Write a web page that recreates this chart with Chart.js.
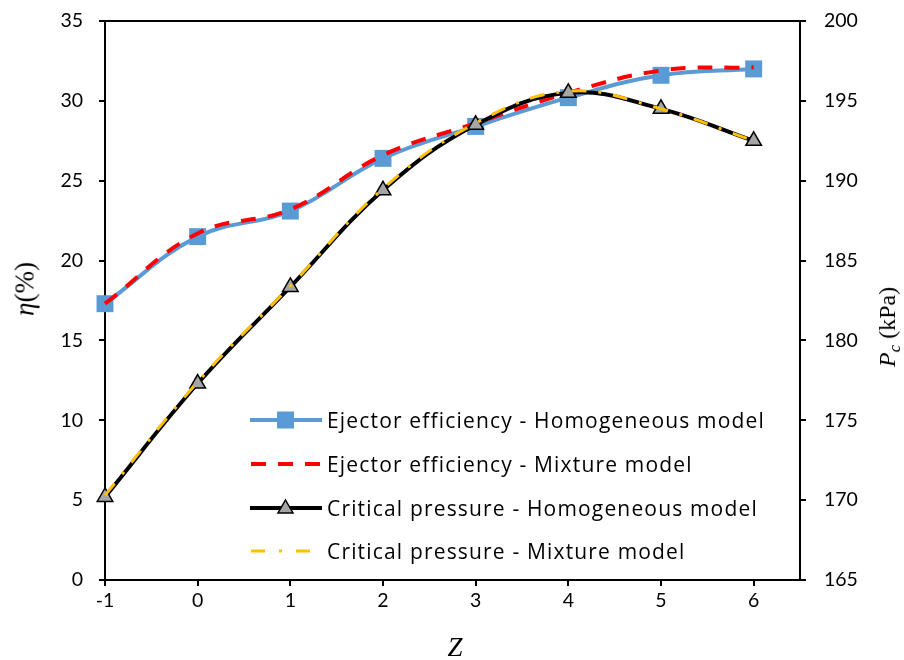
<!DOCTYPE html>
<html>
<head>
<meta charset="utf-8">
<script src="https://cdn.jsdelivr.net/npm/chart.js@4.4.0/dist/chart.umd.min.js"></script>
<style>
html,body{margin:0;padding:0;background:#fff;}
#wrap{position:relative;width:904px;height:660px;overflow:hidden;}
canvas{display:block;}
.ttl{position:absolute;font-family:"Liberation Serif","DejaVu Serif",serif;color:#000;white-space:nowrap;line-height:1;}
.row{position:absolute;left:250px;height:44px;display:flex;align-items:center;font-family:"Open Sans",Lato,sans-serif;font-size:21px;color:#000;white-space:nowrap;}
.row svg{width:72px;height:24px;margin-right:5px;flex:none;}
</style>
</head>
<body>
<div id="wrap">
<canvas id="c" width="904" height="660"></canvas>
<div class="ttl" id="yl" style="font-size:27px;left:25px;top:289px;transform:translate(-50%,-50%) rotate(-90deg);"><i>η</i>(%)</div>
<div class="ttl" id="yr" style="font-size:24px;left:889px;top:327px;transform:translate(-50%,-50%) rotate(-90deg);"><i>P</i><sub style="font-size:17px;vertical-align:-5px;"><i>c</i></sub> (kPa)</div>
<div class="ttl" id="xl" style="font-size:27px;left:455px;top:647px;transform:translate(-50%,-50%);"><i>Z</i></div>
<div id="legend"></div>
</div>
<script>
// ---- data ----
const zValues = [-1, 0, 1, 2, 3, 4, 5, 6];
const effHomogeneous = [17.3, 21.5, 23.1, 26.4, 28.4, 30.2, 31.6, 32.0];
const effMixture = [17.3, 21.7, 23.2, 26.6, 28.6, 30.5, 31.9, 32.1];
const pcHomogeneous = [170.2, 177.3, 183.35, 189.4, 193.5, 195.5, 194.5, 192.5];
const pcMixture = [170.3, 177.4, 183.4, 189.5, 193.6, 195.6, 194.5, 192.5];
const xTicks = [-1, 0, 1, 2, 3, 4, 5, 6];
const etaTicks = [0, 5, 10, 15, 20, 25, 30, 35];
const pcTicks = [165, 170, 175, 180, 185, 190, 195, 200];
const seriesNames = [
  "Ejector efficiency - Homogeneous model",
  "Ejector efficiency - Mixture model",
  "Critical pressure - Homogeneous model",
  "Critical pressure - Mixture model"
];

const pts = (ys) => zValues.map((z, i) => ({x: z, y: ys[i]}));
const setTicks = (arr) => (s) => { s.ticks = arr.map(v => ({value: v})); };
const noPad = (s) => { s.paddingTop = 0; s.paddingBottom = 0; s.paddingLeft = 0; s.paddingRight = 0; };
const tickFont = {family: 'Lato, "Open Sans", sans-serif', size: 19.5};

new Chart(document.getElementById('c'), {
  type: 'line',
  data: {
    datasets: [
      {label: seriesNames[3], data: pts(pcMixture), yAxisID: 'y1', borderColor: '#FFC000', borderWidth: 3,
       borderDash: [15, 12, 3, 12], pointRadius: 0, tension: 0.4, order: 0, clip: false},
      {label: seriesNames[2], data: pts(pcHomogeneous), yAxisID: 'y1', borderColor: '#000000', borderWidth: 4,
       pointStyle: 'triangle', pointRadius: 9, pointBackgroundColor: '#A5A5A5', pointBorderColor: '#000',
       pointBorderWidth: 1.5, tension: 0.4, order: 1, clip: false},
      {label: seriesNames[1], data: pts(effMixture), yAxisID: 'y', borderColor: '#FF0000', borderWidth: 4,
       borderDash: [15, 12], pointRadius: 0, tension: 0.4, order: 2, clip: false},
      {label: seriesNames[0], data: pts(effHomogeneous), yAxisID: 'y', borderColor: '#5B9BD5', borderWidth: 4,
       pointStyle: 'rect', pointRadius: 12, pointBackgroundColor: '#5B9BD5', pointBorderColor: '#5B9BD5',
       pointBorderWidth: 0, tension: 0.4, order: 3, clip: false}
    ]
  },
  options: {
    responsive: false, animation: false, devicePixelRatio: 1,
    layout: {padding: 0},
    plugins: {legend: {display: false}, tooltip: {enabled: false}},
    scales: {
      x: {type: 'linear', position: 'bottom', min: -1, max: 6.5,
          afterBuildTicks: setTicks(xTicks), afterFit: s => { s.height = 80; noPad(s); },
          grid: {display: true, drawOnChartArea: false, drawTicks: true, tickLength: 6, color: '#000', lineWidth: 2},
          border: {display: true, color: '#000', width: 2},
          ticks: {color: '#000', font: tickFont, padding: 3, maxRotation: 0}},
      xTop: {type: 'linear', position: 'top', min: -1, max: 6.5,
          afterFit: s => { s.height = 21; noPad(s); },
          grid: {display: false}, ticks: {display: false},
          border: {display: true, color: '#000', width: 2}},
      y: {type: 'linear', position: 'left', min: 0, max: 35,
          afterBuildTicks: setTicks(etaTicks), afterFit: s => { s.width = 105; noPad(s); },
          grid: {display: true, drawOnChartArea: false, drawTicks: true, tickLength: 6, color: '#000', lineWidth: 2},
          border: {display: true, color: '#000', width: 2},
          ticks: {color: '#000', font: tickFont, padding: 16}},
      y1: {type: 'linear', position: 'right', min: 165, max: 200,
          afterBuildTicks: setTicks(pcTicks), afterFit: s => { s.width = 104; noPad(s); },
          grid: {display: true, drawOnChartArea: false, drawTicks: true, tickLength: 6, color: '#000', lineWidth: 2},
          border: {display: true, color: '#000', width: 2},
          ticks: {color: '#000', font: tickFont, padding: 18}}
    }
  }
});

// ---- legend (inside plot area) ----
const samples = [
  '<svg viewBox="0 0 72 24"><line x1="0" y1="12" x2="72" y2="12" stroke="#5B9BD5" stroke-width="4"/><rect x="27" y="3.5" width="17" height="17" fill="#5B9BD5"/></svg>',
  '<svg viewBox="0 0 72 24"><line x1="1" y1="12" x2="72" y2="12" stroke="#FF0000" stroke-width="4" stroke-dasharray="15 12"/></svg>',
  '<svg viewBox="0 0 72 24"><line x1="0" y1="12" x2="72" y2="12" stroke="#000" stroke-width="4"/><polygon points="35.5,4 43,17 28,17" fill="#A5A5A5" stroke="#000" stroke-width="1.5"/></svg>',
  '<svg viewBox="0 0 72 24"><line x1="1" y1="12" x2="72" y2="12" stroke="#FFC000" stroke-width="3" stroke-dasharray="14 14 3 14"/></svg>'
];
const rowCenters = [420, 464, 508, 551];
const leg = document.getElementById('legend');
const spans = [];
seriesNames.forEach((n, i) => {
  const d = document.createElement('div');
  d.className = 'row';
  d.style.top = (rowCenters[i] - 22) + 'px';
  d.innerHTML = samples[i] + '<span>' + n + '</span>';
  leg.appendChild(d);
  spans.push(d.querySelector('span'));
});
// match the reference width of the longest legend entry (438 px)
const w0 = spans[0].getBoundingClientRect().width;
const ls = (438 - w0) / seriesNames[0].length;
spans.forEach(s => { s.style.letterSpacing = ls.toFixed(2) + 'px'; });
</script>
</body>
</html>
